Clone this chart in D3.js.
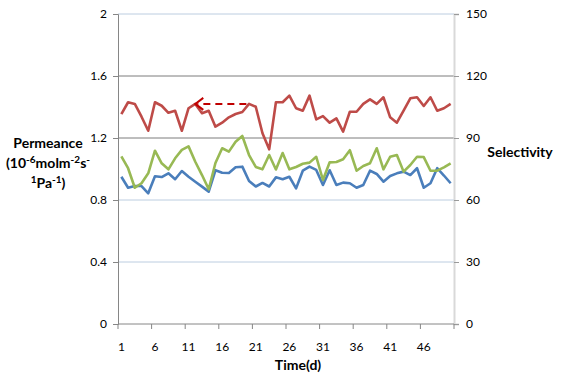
<!DOCTYPE html>
<html>
<head>
<meta charset="utf-8">
<script src="https://cdn.jsdelivr.net/npm/d3@7"></script>
<style>
  body { margin: 0; background: #fff; }
  text { font-family: Lato, "Open Sans", sans-serif; fill: #000; }
</style>
</head>
<body>
<div id="chart"></div>
<script>
// days 1..50
const days = d3.range(1, 51);
const dayLabels = ["1", "6", "11", "16", "21", "26", "31", "36", "41", "46"];
const permTicks = [0, 0.4, 0.8, 1.2, 1.6, 2];
const selTicks = [0, 30, 60, 90, 120, 150];

// selectivity (right axis)
const selectivity = [101.5, 107.3, 106.5, 100.3, 93.5, 107.3, 105.6, 102.2, 103.2, 93.5,
  104.4, 106.5, 102.0, 103.2, 95.5, 97.4, 100.0, 101.6, 102.6, 106.5,
  105.1, 92.3, 84.5, 107.3, 107.3, 110.5, 104.4, 103.2, 110.5, 99.0,
  100.6, 97.4, 99.5, 93.1, 102.7, 102.7, 106.5, 108.7, 106.5, 109.7,
  100.0, 97.4, 103.2, 109.2, 109.7, 105.5, 109.7, 103.2, 104.4, 106.5];

// permeance (left axis), green series
const permGreen = [1.082, 1.005, 0.879, 0.908, 0.972, 1.118, 1.037, 0.998, 1.069, 1.123,
  1.146, 1.047, 0.961, 0.869, 1.039, 1.134, 1.112, 1.176, 1.213, 1.090,
  1.013, 0.998, 1.090, 0.997, 1.103, 0.998, 1.013, 1.034, 1.041, 1.079,
  0.929, 1.043, 1.045, 1.063, 1.121, 0.989, 1.019, 1.037, 1.134, 0.998,
  1.079, 1.090, 0.983, 1.026, 1.079, 1.077, 0.989, 0.989, 1.011, 1.037];

// permeance (left axis), blue series
const permBlue = [0.950, 0.879, 0.890, 0.890, 0.843, 0.953, 0.948, 0.972, 0.934, 0.987,
  0.950, 0.918, 0.886, 0.854, 0.992, 0.976, 0.974, 1.011, 1.015, 0.923,
  0.887, 0.910, 0.887, 0.946, 0.934, 0.950, 0.875, 0.989, 1.015, 0.994,
  0.897, 0.992, 0.897, 0.912, 0.908, 0.879, 0.897, 0.989, 0.968, 0.918,
  0.955, 0.972, 0.983, 0.961, 1.005, 0.879, 0.908, 1.005, 0.958, 0.908];

// dashed arrow: from day 19.6 back to day 12, at selectivity level
const arrowFrom = 19.6, arrowTo = 12, arrowLevel = 106.5;

const W = 561, H = 385;
const plot = { left: 118, right: 454, top: 14, bottom: 324 };

const svg = d3.select("#chart").append("svg")
  .attr("width", W)
  .attr("height", H);

const x = d3.scaleBand().domain(days).range([plot.left, plot.right]).padding(0);
const bw = x.bandwidth();
const xc = d => x(d) + bw / 2;
// fractional day -> pixel (for the annotation)
const xf = v => plot.left + (v - 0.5) * bw;

const yL = d3.scaleLinear().domain([0, 2]).range([plot.bottom, plot.top]);
const yR = d3.scaleLinear().domain([0, 150]).range([plot.bottom, plot.top]);

// gridlines
svg.append("g").selectAll("line")
  .data(permTicks.filter(d => d > 0))
  .enter().append("line")
  .attr("x1", plot.left).attr("x2", plot.right)
  .attr("y1", d => yL(d)).attr("y2", d => yL(d))
  .attr("stroke", d => (d === 1.2 || d === 1.6) ? "#7c7c7c" : "#bccde0")
  .attr("stroke-width", 1);

// right axis (light)
const rightAxis = svg.append("g")
  .attr("transform", `translate(${plot.right},0)`)
  .call(d3.axisRight(yR).tickValues(selTicks).tickSize(5).tickPadding(7).tickFormat(d3.format("d")));
rightAxis.select(".domain").attr("stroke", "#d9d9d9").attr("stroke-width", 2);
rightAxis.selectAll(".tick line").attr("stroke", "#9a9a9a");
rightAxis.selectAll("text").style("font-size", "12px").attr("fill", "#000");

// left axis
const leftAxis = svg.append("g")
  .attr("transform", `translate(${plot.left},0)`)
  .call(d3.axisLeft(yL).tickValues(permTicks).tickSize(5).tickPadding(6)
    .tickFormat(d => d === 0 ? "0" : d === 2 ? "2" : d3.format(".1f")(d)));
leftAxis.select(".domain").attr("stroke", "#868686");
leftAxis.selectAll(".tick line").attr("stroke", "#868686");
leftAxis.selectAll("text").style("font-size", "12px").attr("fill", "#000");

// bottom axis: labels at category centres, ticks at category boundaries
const bottom = svg.append("g").attr("transform", `translate(0,${plot.bottom})`);
bottom.append("line")
  .attr("x1", plot.left).attr("x2", plot.right)
  .attr("stroke", "#868686");
const boundaries = d3.range(0, 51, 5);
bottom.selectAll(".bt").data(boundaries).enter().append("line")
  .attr("class", "bt")
  .attr("x1", d => plot.left + d * bw).attr("x2", d => plot.left + d * bw)
  .attr("y1", 0).attr("y2", 5)
  .attr("stroke", "#868686");
bottom.selectAll(".bl").data(dayLabels).enter().append("text")
  .attr("class", "bl")
  .attr("x", d => xc(+d))
  .attr("y", 27)
  .attr("text-anchor", "middle")
  .style("font-size", "12px")
  .text(d => d);

// series
const lineL = d3.line().x((d, i) => xc(days[i])).y(d => yL(d));
const lineR = d3.line().x((d, i) => xc(days[i])).y(d => yR(d));

svg.append("path").datum(permBlue)
  .attr("d", lineL).attr("fill", "none")
  .attr("stroke", "#4a7ebb").attr("stroke-width", 2.6).attr("stroke-linejoin", "round");
svg.append("path").datum(permGreen)
  .attr("d", lineL).attr("fill", "none")
  .attr("stroke", "#98b954").attr("stroke-width", 2.6).attr("stroke-linejoin", "round");
svg.append("path").datum(selectivity)
  .attr("d", lineR).attr("fill", "none")
  .attr("stroke", "#be4b48").attr("stroke-width", 2.6).attr("stroke-linejoin", "round");

// dashed arrow annotation
const ay = yR(arrowLevel);
const ax0 = xf(arrowFrom), ax1 = xf(arrowTo);
svg.append("line")
  .attr("x1", ax0).attr("x2", ax1 + 2)
  .attr("y1", ay).attr("y2", ay)
  .attr("stroke", "#c00000").attr("stroke-width", 2)
  .attr("stroke-dasharray", "7,5");
svg.append("path")
  .attr("d", `M${ax1 + 8},${ay - 6}L${ax1},${ay}L${ax1 + 8},${ay + 6}`)
  .attr("fill", "none").attr("stroke", "#c00000").attr("stroke-width", 2);

// axis titles
const tl = svg.append("text")
  .attr("text-anchor", "middle")
  .style("font-size", "14px").style("font-weight", "bold");
tl.append("tspan").attr("x", 48).attr("y", 148).text("Permeance");
const l2 = tl.append("tspan").attr("x", 48).attr("y", 168);
l2.append("tspan").text("(10");
l2.append("tspan").attr("dy", -5).style("font-size", "10px").text("-6");
l2.append("tspan").attr("dy", 5).text("molm");
l2.append("tspan").attr("dy", -5).style("font-size", "10px").text("-2");
l2.append("tspan").attr("dy", 5).text("s");
l2.append("tspan").attr("dy", -5).style("font-size", "10px").text("-");
const l3 = tl.append("tspan").attr("x", 48).attr("y", 188);
l3.append("tspan").attr("dy", -5).style("font-size", "10px").text("1");
l3.append("tspan").attr("dy", 5).text("Pa");
l3.append("tspan").attr("dy", -5).style("font-size", "10px").text("-1");
l3.append("tspan").attr("dy", 5).text(")");

svg.append("text")
  .attr("x", 520).attr("y", 157)
  .attr("text-anchor", "middle")
  .style("font-size", "14px").style("font-weight", "bold")
  .text("Selectivity");

svg.append("text")
  .attr("x", 298).attr("y", 370)
  .attr("text-anchor", "middle")
  .style("font-size", "14px").style("font-weight", "bold")
  .text("Time(d)");
</script>
</body>
</html>
